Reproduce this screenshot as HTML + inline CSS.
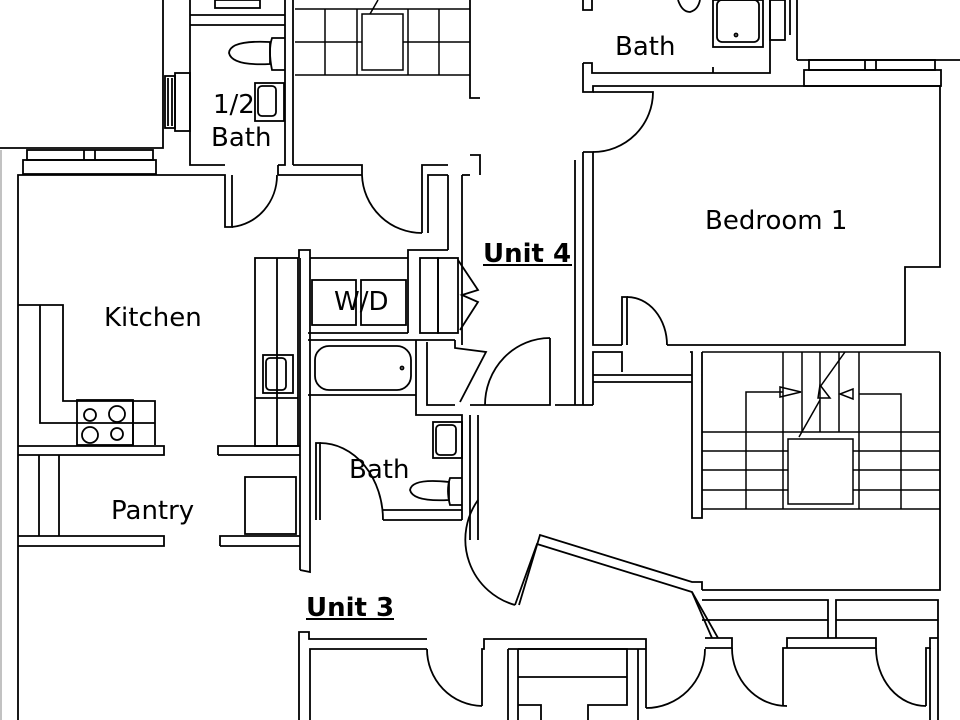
<!DOCTYPE html>
<html><head><meta charset="utf-8"><style>
html,body{margin:0;padding:0;background:#fff;width:960px;height:720px;overflow:hidden}
svg{display:block}
text{font-family:"DejaVu Sans","Liberation Sans",sans-serif;fill:#000}
</style></head><body>
<svg width="960" height="720" viewBox="0 0 960 720" xmlns="http://www.w3.org/2000/svg">
<rect width="960" height="720" fill="#fff"/>
<g fill="none" stroke="#000" stroke-width="1.8">
<line x1="1" y1="150" x2="1" y2="720" stroke="#bbb"/>
<polyline points="0,148 163,148 163,0"/>
<rect x="165" y="76" width="10" height="52"/><line x1="168" y1="78" x2="168" y2="126"/><line x1="172" y1="78" x2="172" y2="126"/>
<rect x="175" y="73" width="15" height="58"/>
<rect x="27" y="150" width="126" height="10"/><line x1="84" y1="150" x2="84" y2="160"/><line x1="95" y1="150" x2="95" y2="160"/>
<rect x="23" y="160" width="133" height="14"/>
<polyline points="190,0 190,165 225,165"/>
<polyline points="285,0 285,165 278,165"/>
<line x1="190" y1="15" x2="285" y2="15"/><line x1="190" y1="25" x2="285" y2="25"/>
<rect x="215" y="0" width="45" height="8"/>
<path d="M285,38 L272,38 Q268,50 272,70 L285,70"/><path d="M270,42 Q230,40 229,53 Q232,66 270,64 Z"/>
<rect x="255" y="83" width="29" height="38"/><rect x="258" y="86" width="18" height="30" rx="4"/>
<line x1="293" y1="0" x2="293" y2="165"/>
<polyline points="293,165 362,165 362,175"/>
<g stroke-width="1.5">
<line x1="295" y1="9" x2="470" y2="9"/><line x1="295" y1="42" x2="362" y2="42"/><line x1="403" y1="42" x2="470" y2="42"/>
<line x1="295" y1="75" x2="470" y2="75"/>
<line x1="325" y1="9" x2="325" y2="75"/><line x1="357" y1="9" x2="357" y2="75"/><line x1="408" y1="9" x2="408" y2="75"/><line x1="439" y1="9" x2="439" y2="75"/>
<rect x="362" y="14" width="41" height="56"/><line x1="370" y1="14" x2="378" y2="0"/>
</g>
<polyline points="470,0 470,98 480,98"/><polyline points="470,155 480,155 480,175"/>
<polyline points="18,720 18,175 225,175 225,227 232,227 232,175"/>
<path d="M232,227 A50,52 0 0 0 277,175"/><line x1="278" y1="165" x2="278" y2="175"/>
<line x1="278" y1="175" x2="362" y2="175"/>
<path d="M362,175 A60,60 0 0 0 422,233"/>
<polyline points="422,233 422,165 448,165"/><polyline points="428,233 428,175 448,175"/>
<line x1="448" y1="175" x2="448" y2="250"/><polyline points="448,250 408,250 408,258"/>
<polyline points="462,175 462,345"/><polyline points="470,175 462,175"/>
<polyline points="18,305 63,305 63,401 155,401 155,445"/>
<polyline points="40,305 40,423 77,423"/>
<rect x="77" y="400" width="56" height="45"/><line x1="77" y1="423" x2="155" y2="423"/><line x1="133" y1="401" x2="133" y2="445"/>
<circle cx="90" cy="415" r="6"/><circle cx="117" cy="414" r="8"/><circle cx="90" cy="435" r="8"/><circle cx="117" cy="434" r="6"/>
<polyline points="18,446 164,446 164,455 18,455"/>
<polyline points="218,455 218,446 300,446"/><line x1="218" y1="455" x2="300" y2="455"/>
<rect x="255" y="258" width="43" height="188"/><line x1="277" y1="258" x2="277" y2="446"/>
<line x1="255" y1="398" x2="298" y2="398"/>
<rect x="263" y="355" width="30" height="38"/><rect x="266" y="358" width="20" height="32" rx="4"/>
<line x1="39" y1="455" x2="39" y2="536"/><line x1="59" y1="455" x2="59" y2="536"/>
<polyline points="18,536 164,536 164,546 18,546"/>
<polyline points="220,546 220,536 300,536"/><line x1="220" y1="546" x2="300" y2="546"/>
<rect x="245" y="477" width="51" height="57"/>
<polyline points="299,258 299,250 310,250 310,258"/>
<line x1="300" y1="258" x2="300" y2="570"/><polyline points="300,570 310,572 310,258"/>
<line x1="310" y1="258" x2="408" y2="258"/>
<line x1="408" y1="258" x2="408" y2="333"/><line x1="308" y1="333" x2="408" y2="333"/>
<rect x="312" y="280" width="44" height="45"/><rect x="361" y="280" width="45" height="45"/>
<rect x="420" y="258" width="18" height="75"/><rect x="438" y="258" width="20" height="75"/>
<polyline points="458,260 478,290 462,295 478,302 460,330"/>
<line x1="308" y1="340" x2="455" y2="340"/>
<rect x="315" y="346" width="96" height="44" rx="14"/><circle cx="402" cy="368" r="1.5"/>
<line x1="308" y1="395" x2="416" y2="395"/>
<polyline points="416,340 416,415 462,415 462,520"/>
<polyline points="427,342 427,405 455,405"/>
<polyline points="455,340 455,348 486,352 460,402"/>
<rect x="433" y="422" width="29" height="36"/><rect x="436" y="425" width="20" height="30" rx="4"/>
<path d="M462,478 L450,478 Q446,490 450,505 L462,505"/><path d="M449,482 Q412,478 410,490 Q413,502 449,500 Z"/>
<polyline points="316,520 316,443 320,443 320,520"/>
<path d="M320,443 A63,77 0 0 1 383,520"/>
<polyline points="383,520 462,520"/><polyline points="383,510 462,510"/>
<polyline points="470,415 470,540"/><polyline points="478,415 478,540"/>
<polyline points="470,405 550,405 550,338"/>
<path d="M550,338 A65,67 0 0 0 485,405"/>
<path d="M478,500 A68,68 0 0 0 515,605"/>
<polyline points="515,605 537,544 692,592 718,638"/>
<polyline points="519,605 540,535 692,582 702,582 702,590"/>
<line x1="692" y1="592" x2="712" y2="638"/>
<line x1="583" y1="152" x2="583" y2="405"/><line x1="575" y1="160" x2="575" y2="405"/><line x1="583" y1="405" x2="555" y2="405"/>
<polyline points="583,152 593,152 593,345 622,345"/>
<polyline points="583,63 583,92 593,92 593,86 803,86"/>
<path d="M593,92 L653,92 A60,60 0 0 1 593,152"/>
<polyline points="583,0 583,10 592,10 592,0"/>
<polyline points="583,63 592,63 592,73 770,73 770,0"/>
<line x1="713" y1="67" x2="713" y2="73"/>
<rect x="713" y="0" width="50" height="47"/><rect x="717" y="0" width="42" height="42" rx="5"/><circle cx="736" cy="35" r="1.5"/>
<path d="M678,0 Q682,12 690,12 Q698,10 700,0"/>
<rect x="770" y="0" width="15" height="40"/><line x1="790" y1="0" x2="790" y2="35"/><line x1="797" y1="0" x2="797" y2="60"/>
<polyline points="797,60 960,60"/>
<rect x="809" y="60" width="126" height="10"/><line x1="865" y1="60" x2="865" y2="70"/><line x1="876" y1="60" x2="876" y2="70"/>
<rect x="804" y="70" width="137" height="16"/>
<polyline points="803,86 940,86 940,267 905,267 905,345 667,345"/>
<polyline points="622,345 622,297 627,297 627,345"/>
<path d="M627,297 A40,48 0 0 1 667,345"/>
<polyline points="593,405 593,352 622,352 622,372"/>
<polyline points="593,375 692,375"/><line x1="593" y1="382" x2="692" y2="382"/>
<polyline points="690,352 692,352 692,518 702,518 702,352"/>
<polyline points="583,405 593,405"/>
<g stroke-width="1.5">
<line x1="702" y1="352" x2="940" y2="352"/>
<line x1="702" y1="432" x2="940" y2="432"/><line x1="702" y1="451" x2="788" y2="451"/><line x1="853" y1="451" x2="940" y2="451"/>
<line x1="702" y1="470" x2="788" y2="470"/><line x1="853" y1="470" x2="940" y2="470"/>
<line x1="702" y1="490" x2="788" y2="490"/><line x1="853" y1="490" x2="940" y2="490"/>
<line x1="702" y1="509" x2="940" y2="509"/>
<polyline points="746,509 746,392 783,392"/><polyline points="901,509 901,394 859,394"/>
<line x1="783" y1="352" x2="783" y2="509"/><line x1="859" y1="352" x2="859" y2="509"/>
<line x1="802" y1="352" x2="802" y2="432"/><line x1="820" y1="352" x2="820" y2="432"/><line x1="839" y1="352" x2="839" y2="432"/>
<rect x="788" y="439" width="65" height="65"/>
<line x1="799" y1="437" x2="820" y2="400"/><line x1="820" y1="387" x2="845" y2="352"/>
<polygon points="780,387 780,397 801,392"/><polygon points="853,389 853,399 840,394"/>
<polygon points="820,385 830,398 818,398"/>
</g>
<polyline points="940,352 940,590 702,590"/>
<polyline points="702,600 828,600 828,638"/><line x1="702" y1="620" x2="828" y2="620"/>
<polyline points="836,638 836,600 938,600 938,638"/><line x1="836" y1="620" x2="938" y2="620"/>
<polyline points="299,720 299,632 309,632 309,639 427,639"/>
<polyline points="310,720 310,649 427,649"/>
<path d="M427,649 A56,57 0 0 0 482,706"/>
<polyline points="482,706 482,649 484,649 484,639 646,639 646,649"/>
<line x1="508" y1="649" x2="508" y2="720"/><line x1="518" y1="649" x2="518" y2="720"/>
<polyline points="508,649 646,649"/>
<polyline points="518,649 627,649 627,705 588,705 588,720"/><polyline points="518,705 541,705 541,720"/>
<line x1="518" y1="677" x2="627" y2="677"/>
<line x1="638" y1="649" x2="638" y2="720"/><line x1="646" y1="649" x2="646" y2="708"/>
<path d="M646,708 A59,59 0 0 0 705,649"/>
<polyline points="705,638 732,638 732,648 705,648"/>
<path d="M732,648 A55,58 0 0 0 787,706"/>
<polyline points="783,706 783,648 787,648 787,638 876,638 876,648 787,648"/>
<path d="M876,648 A50,58 0 0 0 926,706"/>
<polyline points="926,706 926,648 930,648 930,638 938,638"/>
<line x1="938" y1="638" x2="938" y2="720"/>
<line x1="930" y1="648" x2="930" y2="720"/>
</g>
<g font-size="26">
<text x="104" y="326">Kitchen</text>
<text x="111" y="519">Pantry</text>
<text x="349" y="478">Bath</text>
<text x="213" y="113">1/2</text>
<text x="211" y="146">Bath</text>
<text x="615" y="55">Bath</text>
<text x="705" y="229">Bedroom 1</text>
<text x="334" y="310">W/D</text>
</g>
<g font-size="26" font-weight="bold">
<text x="483" y="262">Unit 4</text>
<text x="306" y="616">Unit 3</text>
</g>
<line x1="483" y1="265" x2="572" y2="265" stroke="#000" stroke-width="2"/>
<line x1="306" y1="619" x2="394" y2="619" stroke="#000" stroke-width="2"/>
</svg>
</body></html>
